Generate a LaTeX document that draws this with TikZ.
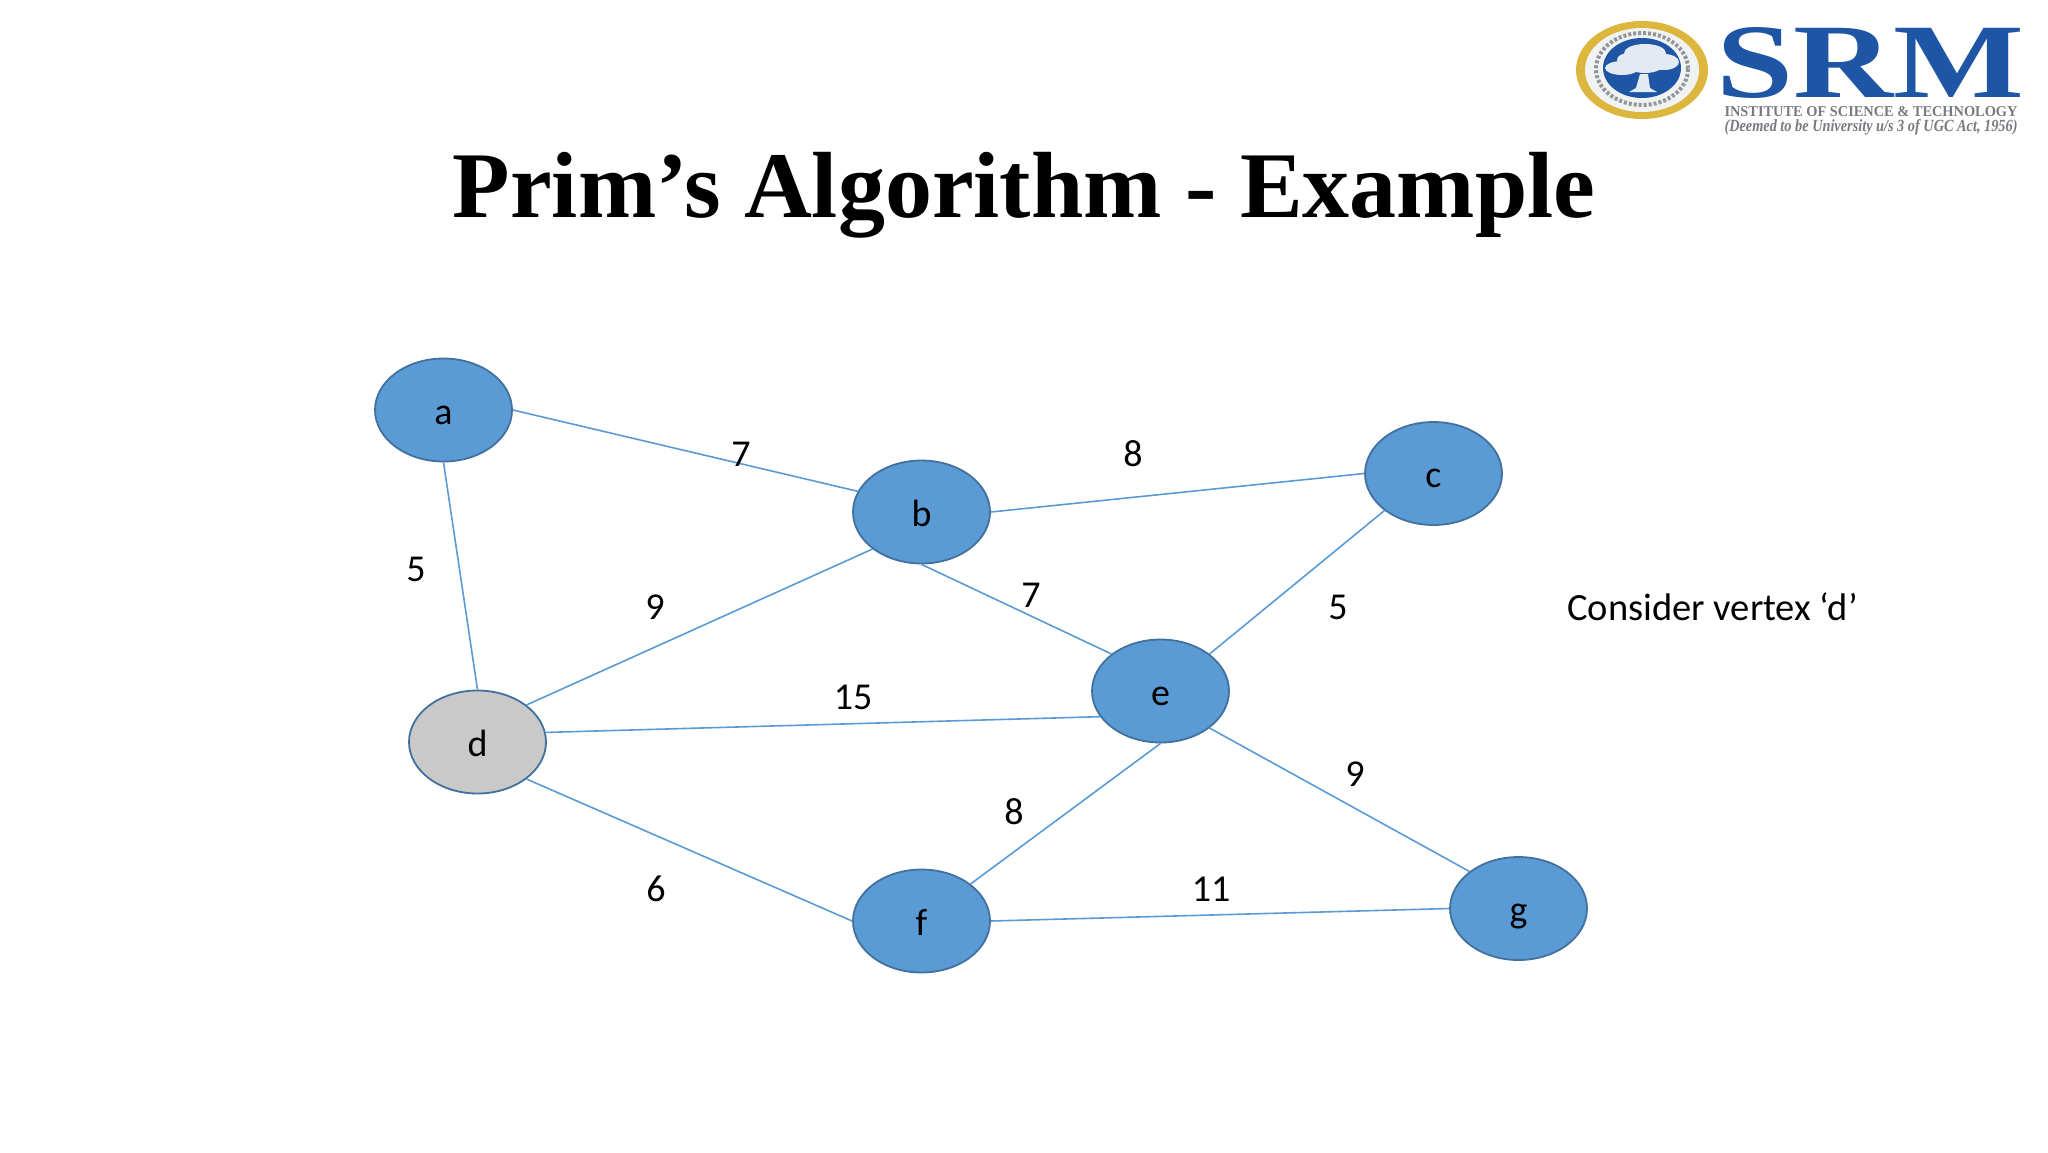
\documentclass[tikz,border=0pt]{standalone}
\usepackage{fontspec}
\setmainfont{Carlito}
\newfontfamily\serifb[Ligatures=TeX]{Liberation Serif}
\definecolor{nodeblue}{HTML}{5B9BD5}
\definecolor{nodeline}{HTML}{41719C}
\definecolor{nodegrey}{HTML}{C9C9C9}
\definecolor{srmblue}{HTML}{1F55A5}
\definecolor{srmgold}{HTML}{DDB63E}
\definecolor{srmgrey}{HTML}{777B80}
\definecolor{srmleaf}{HTML}{E4EAF3}
\tikzset{
  vertex/.style={ellipse,draw=nodeline,line width=0.9pt,fill=nodeblue,minimum width=68.5pt,minimum height=51.5pt,inner sep=0pt,font=\fontsize{19}{22}\selectfont,text=black,text height=14pt,text depth=0pt},
  startv/.style={vertex,fill=nodegrey},
  edge/.style={draw=nodeblue,line width=0.8pt},
  weight/.style={font=\fontsize{19}{22}\selectfont,text=black,inner sep=0pt},
  leaf/.style={fill=srmleaf},
}
\usetikzlibrary{shapes.geometric}
\begin{document}
\begin{tikzpicture}[x=0.5pt,y=-0.5pt]
\useasboundingbox (0,0) rectangle (2048,1152);
\fill[white] (0,0) rectangle (2048,1152);
% logo
\fill[srmgold] (1642,70) ellipse [x radius=66,y radius=49];
\fill[white!90!srmgrey] (1642,70) ellipse [x radius=57,y radius=42];
\draw[srmgrey!80,line width=2pt,dash pattern=on 1.5pt off 1pt] (1642,69) ellipse [x radius=46,y radius=36];
\fill[srmblue] (1642,68) ellipse [x radius=39,y radius=30];
\fill[leaf] (1645,53) ellipse [x radius=21,y radius=9];
\fill[leaf] (1622,68) ellipse [x radius=17,y radius=7];
\fill[leaf] (1664,62) ellipse [x radius=15,y radius=8];
\fill[leaf] (1645,64) ellipse [x radius=19,y radius=9];
\fill[leaf] (1628,60) ellipse [x radius=11,y radius=7];
\fill[leaf] (1640,74) -- (1648,74) -- (1650,88) -- (1657,92) -- (1629,92) -- (1636,88) -- cycle;
\node[inner sep=0pt,anchor=center,text=srmblue] (srm) at (1870,63) {\resizebox{154pt}{35pt}{\serifb\bfseries SRM}};
\node[inner sep=0pt,text=srmgrey] (inst) at (1871,111.5) {\resizebox{146.5pt}{5pt}{\serifb\bfseries INSTITUTE OF SCIENCE \& TECHNOLOGY}};
\node[inner sep=0pt,text=srmgrey] (deem) at (1871,127) {\resizebox{146.5pt}{6pt}{\serifb\bfseries\itshape (Deemed to be University u/s 3 of UGC Act, 1956)}};
% title
\node[inner sep=0pt,text=black] (title) at (1024,195) {\serifb\bfseries\fontsize{47}{54}\selectfont Prim’s Algorithm - Example};
% vertices
\node[vertex] (a) at (443.5,410) {a};
\node[vertex] (b) at (921.5,512) {b};
\node[vertex] (c) at (1433.5,473.5) {c};
\node[startv] (d) at (477.5,742) {d};
\node[vertex] (e) at (1160.5,691) {e};
\node[vertex] (f) at (921.5,921) {f};
\node[vertex] (g) at (1518.5,908.5) {g};
% edges
\draw[edge] (a.east) -- (b.162);
\draw[edge] (a.south) -- (d.north);
\draw[edge] (b.east) -- (c.west);
\draw[edge] (b.south west) -- (d.north east);
\draw[edge] (b.south) -- (e.north west);
\draw[edge] (c.south west) -- (e.north east);
\draw[edge] (d.8) -- (e.203);
\draw[edge] (d.south east) -- (f.west);
\draw[edge] (e.south) -- (f.north east);
\draw[edge] (e.south east) -- (g.north west);
\draw[edge] (f.east) -- (g.west);
% weights
\node[weight] (w1) at (741,454) {7};
\node[weight] (w2) at (1133,454) {8};
\node[weight] (w3) at (416,569) {5};
\node[weight] (w4) at (655,607) {9};
\node[weight] (w5) at (1031,595) {7};
\node[weight] (w6) at (1338,607) {5};
\node[weight] (w7) at (853,697) {15};
\node[weight] (w8) at (1014,812) {8};
\node[weight] (w9) at (1355,774) {9};
\node[weight] (w10) at (656,889) {6};
\node[weight] (w11) at (1211,889) {11};
\node[weight,font=\fontsize{19.25}{22}\selectfont] (note) at (1712.5,607) {Consider vertex ‘d’};
\end{tikzpicture}
\end{document}
